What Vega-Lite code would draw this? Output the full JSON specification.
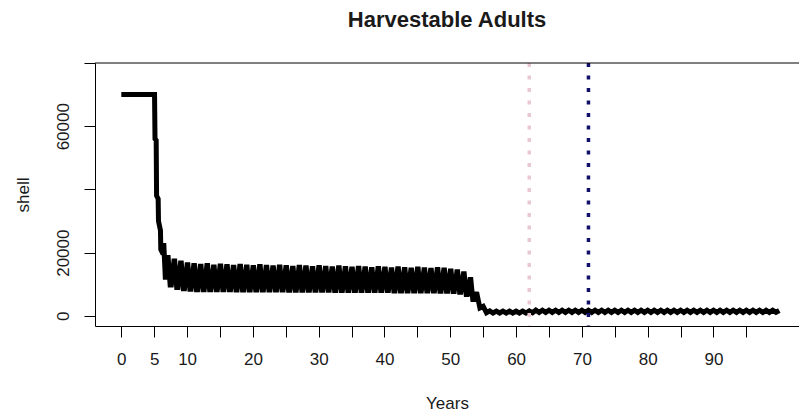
{
  "$schema": "https://vega.github.io/schema/vega-lite/v6.json",
  "autosize": "none",
  "width": 704,
  "height": 263,
  "padding": {"left": 95, "top": 63, "right": 0, "bottom": 88},
  "background": "white",
  "title": {"text": "Harvestable Adults", "fontSize": 22, "fontWeight": "bold", "font": "Liberation Sans", "color": "#1a1a1a", "anchor": "middle", "baseline": "bottom", "offset": 7},
  "config": {
    "view": {"stroke": null},
    "axis": {"grid": false, "domainColor": "black", "tickColor": "black", "domainWidth": 1, "tickWidth": 1, "labelFont": "Liberation Sans", "titleFont": "Liberation Sans", "labelFontSize": 17, "titleFontSize": 17, "titleFontWeight": "normal", "labelColor": "#1a1a1a", "titleColor": "#1a1a1a", "tickSize": 11, "labelOverlap": false}
  },
  "resolve": {"axis": {"x": "independent"}},
  "layer": [
    {
      "data": {"values": [
        {"t": 0, "v": 70000}, {"t": 5.05, "v": 70000}, {"t": 5.12, "v": 56000}, {"t": 5.3, "v": 55500}, {"t": 5.36, "v": 38000}, {"t": 5.6, "v": 37000}, {"t": 5.65, "v": 30000}, {"t": 5.95, "v": 27000}, {"t": 6.0, "v": 21000}, {"t": 6.35, "v": 19500}, {"t": 6.45, "v": 23000}, {"t": 6.7, "v": 11500},
        {"t": 7, "v": 18500}, {"t": 7.12, "v": 18500}, {"t": 7.42, "v": 9800}, {"t": 7.6, "v": 9800},
        {"t": 8, "v": 17400}, {"t": 8.12, "v": 17400}, {"t": 8.42, "v": 9000}, {"t": 8.6, "v": 9000},
        {"t": 9, "v": 16700}, {"t": 9.12, "v": 16700}, {"t": 9.42, "v": 8600}, {"t": 9.6, "v": 8600},
        {"t": 10, "v": 16200}, {"t": 10.12, "v": 16200}, {"t": 10.42, "v": 8400}, {"t": 10.6, "v": 8400},
        {"t": 11, "v": 15900}, {"t": 11.12, "v": 15900}, {"t": 11.42, "v": 8300}, {"t": 11.6, "v": 8300},
        {"t": 12, "v": 15700}, {"t": 12.12, "v": 15700}, {"t": 12.42, "v": 8300}, {"t": 12.6, "v": 8300},
        {"t": 13, "v": 15900}, {"t": 13.12, "v": 15900}, {"t": 13.42, "v": 8300}, {"t": 13.6, "v": 8300},
        {"t": 14, "v": 15500}, {"t": 14.12, "v": 15500}, {"t": 14.42, "v": 8300}, {"t": 14.6, "v": 8300},
        {"t": 15, "v": 15800}, {"t": 15.12, "v": 15800}, {"t": 15.42, "v": 8300}, {"t": 15.6, "v": 8300},
        {"t": 16, "v": 15600}, {"t": 16.12, "v": 15600}, {"t": 16.42, "v": 8300}, {"t": 16.6, "v": 8300},
        {"t": 17, "v": 15400}, {"t": 17.12, "v": 15400}, {"t": 17.42, "v": 8200}, {"t": 17.6, "v": 8200},
        {"t": 18, "v": 15700}, {"t": 18.12, "v": 15700}, {"t": 18.42, "v": 8200}, {"t": 18.6, "v": 8200},
        {"t": 19, "v": 15500}, {"t": 19.12, "v": 15500}, {"t": 19.42, "v": 8200}, {"t": 19.6, "v": 8200},
        {"t": 20, "v": 15300}, {"t": 20.12, "v": 15300}, {"t": 20.42, "v": 8200}, {"t": 20.6, "v": 8200},
        {"t": 21, "v": 15600}, {"t": 21.12, "v": 15600}, {"t": 21.42, "v": 8200}, {"t": 21.6, "v": 8200},
        {"t": 22, "v": 15400}, {"t": 22.12, "v": 15400}, {"t": 22.42, "v": 8200}, {"t": 22.6, "v": 8200},
        {"t": 23, "v": 15200}, {"t": 23.12, "v": 15200}, {"t": 23.42, "v": 8200}, {"t": 23.6, "v": 8200},
        {"t": 24, "v": 15500}, {"t": 24.12, "v": 15500}, {"t": 24.42, "v": 8200}, {"t": 24.6, "v": 8200},
        {"t": 25, "v": 15300}, {"t": 25.12, "v": 15300}, {"t": 25.42, "v": 8100}, {"t": 25.6, "v": 8100},
        {"t": 26, "v": 15100}, {"t": 26.12, "v": 15100}, {"t": 26.42, "v": 8100}, {"t": 26.6, "v": 8100},
        {"t": 27, "v": 15400}, {"t": 27.12, "v": 15400}, {"t": 27.42, "v": 8100}, {"t": 27.6, "v": 8100},
        {"t": 28, "v": 15200}, {"t": 28.12, "v": 15200}, {"t": 28.42, "v": 8100}, {"t": 28.6, "v": 8100},
        {"t": 29, "v": 15000}, {"t": 29.12, "v": 15000}, {"t": 29.42, "v": 8100}, {"t": 29.6, "v": 8100},
        {"t": 30, "v": 15300}, {"t": 30.12, "v": 15300}, {"t": 30.42, "v": 8100}, {"t": 30.6, "v": 8100},
        {"t": 31, "v": 15100}, {"t": 31.12, "v": 15100}, {"t": 31.42, "v": 8100}, {"t": 31.6, "v": 8100},
        {"t": 32, "v": 14900}, {"t": 32.12, "v": 14900}, {"t": 32.42, "v": 8000}, {"t": 32.6, "v": 8000},
        {"t": 33, "v": 15200}, {"t": 33.12, "v": 15200}, {"t": 33.42, "v": 8000}, {"t": 33.6, "v": 8000},
        {"t": 34, "v": 15000}, {"t": 34.12, "v": 15000}, {"t": 34.42, "v": 8000}, {"t": 34.6, "v": 8000},
        {"t": 35, "v": 14800}, {"t": 35.12, "v": 14800}, {"t": 35.42, "v": 8000}, {"t": 35.6, "v": 8000},
        {"t": 36, "v": 15100}, {"t": 36.12, "v": 15100}, {"t": 36.42, "v": 8000}, {"t": 36.6, "v": 8000},
        {"t": 37, "v": 14900}, {"t": 37.12, "v": 14900}, {"t": 37.42, "v": 8000}, {"t": 37.6, "v": 8000},
        {"t": 38, "v": 14700}, {"t": 38.12, "v": 14700}, {"t": 38.42, "v": 8000}, {"t": 38.6, "v": 8000},
        {"t": 39, "v": 15000}, {"t": 39.12, "v": 15000}, {"t": 39.42, "v": 8000}, {"t": 39.6, "v": 8000},
        {"t": 40, "v": 14800}, {"t": 40.12, "v": 14800}, {"t": 40.42, "v": 8000}, {"t": 40.6, "v": 8000},
        {"t": 41, "v": 14600}, {"t": 41.12, "v": 14600}, {"t": 41.42, "v": 7900}, {"t": 41.6, "v": 7900},
        {"t": 42, "v": 14900}, {"t": 42.12, "v": 14900}, {"t": 42.42, "v": 7900}, {"t": 42.6, "v": 7900},
        {"t": 43, "v": 14700}, {"t": 43.12, "v": 14700}, {"t": 43.42, "v": 7900}, {"t": 43.6, "v": 7900},
        {"t": 44, "v": 14500}, {"t": 44.12, "v": 14500}, {"t": 44.42, "v": 7900}, {"t": 44.6, "v": 7900},
        {"t": 45, "v": 14800}, {"t": 45.12, "v": 14800}, {"t": 45.42, "v": 7900}, {"t": 45.6, "v": 7900},
        {"t": 46, "v": 14600}, {"t": 46.12, "v": 14600}, {"t": 46.42, "v": 7900}, {"t": 46.6, "v": 7900},
        {"t": 47, "v": 14400}, {"t": 47.12, "v": 14400}, {"t": 47.42, "v": 7900}, {"t": 47.6, "v": 7900},
        {"t": 48, "v": 14700}, {"t": 48.12, "v": 14700}, {"t": 48.42, "v": 7800}, {"t": 48.6, "v": 7800},
        {"t": 49, "v": 14500}, {"t": 49.12, "v": 14500}, {"t": 49.42, "v": 7800}, {"t": 49.6, "v": 7800},
        {"t": 50, "v": 14200}, {"t": 50.12, "v": 14200}, {"t": 50.42, "v": 7700}, {"t": 50.6, "v": 7700},
        {"t": 51, "v": 14000}, {"t": 51.12, "v": 14000}, {"t": 51.42, "v": 7500}, {"t": 51.6, "v": 7500},
        {"t": 52, "v": 13300}, {"t": 52.12, "v": 13300}, {"t": 52.42, "v": 6800}, {"t": 52.6, "v": 6800},
        {"t": 53, "v": 11500}, {"t": 53.12, "v": 11500}, {"t": 53.42, "v": 5200}, {"t": 53.6, "v": 5200},
        {"t": 54, "v": 7500}, {"t": 54.5, "v": 2500},
        {"t": 55, "v": 3000}, {"t": 55.5, "v": 1000},
        {"t": 56, "v": 1600}, {"t": 56.5, "v": 900},
        {"t": 57, "v": 1500}, {"t": 57.5, "v": 900},
        {"t": 58, "v": 1500}, {"t": 58.5, "v": 900},
        {"t": 59, "v": 1500}, {"t": 59.5, "v": 900},
        {"t": 60, "v": 1500}, {"t": 60.5, "v": 900},
        {"t": 61, "v": 1500}, {"t": 61.5, "v": 900},
        {"t": 62, "v": 1600}, {"t": 62.5, "v": 1000},
        {"t": 63, "v": 1800}, {"t": 63.5, "v": 1100},
        {"t": 64, "v": 1800}, {"t": 64.5, "v": 1100},
        {"t": 65, "v": 1800}, {"t": 65.5, "v": 1100},
        {"t": 66, "v": 1800}, {"t": 66.5, "v": 1100},
        {"t": 67, "v": 1800}, {"t": 67.5, "v": 1100},
        {"t": 68, "v": 1800}, {"t": 68.5, "v": 1100},
        {"t": 69, "v": 1800}, {"t": 69.5, "v": 1100},
        {"t": 70, "v": 1800}, {"t": 70.5, "v": 1100},
        {"t": 71, "v": 1800}, {"t": 71.5, "v": 1100},
        {"t": 72, "v": 1800}, {"t": 72.5, "v": 1100},
        {"t": 73, "v": 1800}, {"t": 73.5, "v": 1100},
        {"t": 74, "v": 1800}, {"t": 74.5, "v": 1100},
        {"t": 75, "v": 1800}, {"t": 75.5, "v": 1100},
        {"t": 76, "v": 1800}, {"t": 76.5, "v": 1100},
        {"t": 77, "v": 1800}, {"t": 77.5, "v": 1100},
        {"t": 78, "v": 1800}, {"t": 78.5, "v": 1100},
        {"t": 79, "v": 1800}, {"t": 79.5, "v": 1100},
        {"t": 80, "v": 1800}, {"t": 80.5, "v": 1100},
        {"t": 81, "v": 1800}, {"t": 81.5, "v": 1100},
        {"t": 82, "v": 1800}, {"t": 82.5, "v": 1100},
        {"t": 83, "v": 1800}, {"t": 83.5, "v": 1100},
        {"t": 84, "v": 1800}, {"t": 84.5, "v": 1100},
        {"t": 85, "v": 1800}, {"t": 85.5, "v": 1100},
        {"t": 86, "v": 1800}, {"t": 86.5, "v": 1100},
        {"t": 87, "v": 1800}, {"t": 87.5, "v": 1100},
        {"t": 88, "v": 1800}, {"t": 88.5, "v": 1100},
        {"t": 89, "v": 1800}, {"t": 89.5, "v": 1100},
        {"t": 90, "v": 1800}, {"t": 90.5, "v": 1100},
        {"t": 91, "v": 1800}, {"t": 91.5, "v": 1100},
        {"t": 92, "v": 1800}, {"t": 92.5, "v": 1100},
        {"t": 93, "v": 1800}, {"t": 93.5, "v": 1100},
        {"t": 94, "v": 1800}, {"t": 94.5, "v": 1100},
        {"t": 95, "v": 1800}, {"t": 95.5, "v": 1100},
        {"t": 96, "v": 1800}, {"t": 96.5, "v": 1100},
        {"t": 97, "v": 1800}, {"t": 97.5, "v": 1100},
        {"t": 98, "v": 1800}, {"t": 98.5, "v": 1100},
        {"t": 99, "v": 1800}, {"t": 99.5, "v": 1100},
        {"t": 100, "v": 1700}
      ]},
      "mark": {"type": "line", "color": "black", "strokeWidth": 5, "strokeJoin": "miter", "strokeMiterLimit": 2, "strokeCap": "butt", "clip": true},
      "encoding": {
        "x": {"field": "t", "type": "quantitative", "scale": {"domain": [-4, 103], "nice": false, "zero": false},
          "axis": {"title": "Years", "orient": "bottom", "values": [0,5,10,20,30,40,50,60,70,80,90], "format": "d", "labelPadding": 14, "titlePadding": 28, "labelFlush": false, "labelOverlap": false}},
        "y": {"field": "v", "type": "quantitative", "scale": {"domain": [-3200, 80000], "nice": false, "zero": false},
          "axis": {"title": "shell", "values": [0, 20000, 40000, 60000, 80000], "labelExpr": "(datum.value == 40000 || datum.value == 80000) ? '' : datum.label", "format": "d", "labelAngle": 270, "labelAlign": "center", "labelBaseline": "bottom", "labelPadding": 12, "titlePadding": 22, "labelOverlap": false, "labelFlush": false}}
      }
    },
    {
      "data": {"values": [{"yr": 62}]},
      "mark": {"type": "rule", "color": "#e9c8d1", "strokeWidth": 3.5, "strokeDash": [4, 8.5]},
      "encoding": {"x": {"field": "yr", "type": "quantitative",
        "axis": {"orient": "bottom", "values": [15,25,35,45,55,65,75,85,95], "labels": false, "domain": false, "title": null}}}
    },
    {
      "data": {"values": [{"yr": 71}]},
      "mark": {"type": "rule", "color": "#10106a", "strokeWidth": 3.5, "strokeDash": [4, 8.5]},
      "encoding": {"x": {"field": "yr", "type": "quantitative", "axis": null}}
    },
    {
      "data": {"values": [{"top": 80000}]},
      "mark": {"type": "rule", "color": "black", "strokeWidth": 1},
      "encoding": {"y": {"field": "top", "type": "quantitative"}}
    }
  ]
}
